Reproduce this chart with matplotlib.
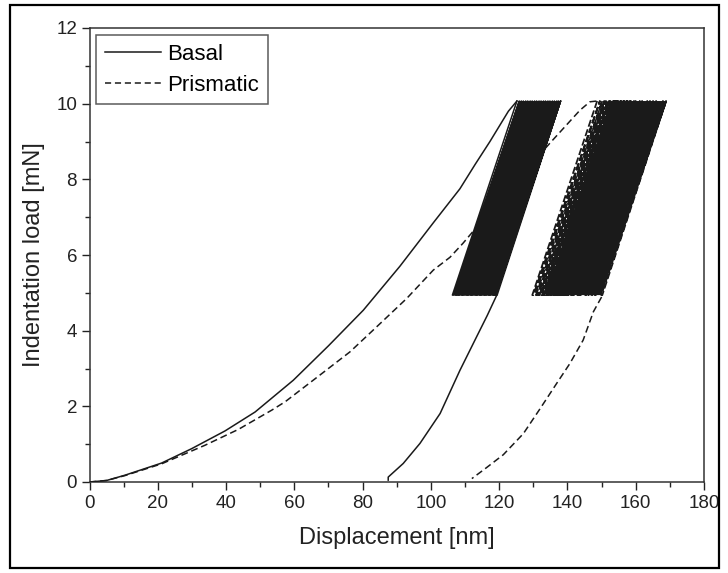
import matplotlib
matplotlib.use("Agg")
import matplotlib.pyplot as plt
from matplotlib.patches import Rectangle, Polygon
from matplotlib.lines import Line2D
from matplotlib.ticker import MultipleLocator

plt.rcParams['font.family'] = ['Liberation Sans', 'DejaVu Sans']

# loading curves (displacement nm, load mN)
basal_load_x = [0, 5, 10.4, 21.1, 29.9, 39.7, 48.5, 57.3, 59.7, 70, 80.2, 90.9,
                100.7, 108.5, 113, 117.3, 122.7, 125.2]
basal_load_y = [0, 0.04, 0.18, 0.5, 0.88, 1.35, 1.85, 2.51, 2.69, 3.6, 4.54, 5.7,
                6.85, 7.75, 8.4, 9.0, 9.8, 10.07]
prism_load_x = [0, 5, 10.4, 21.1, 33.8, 43.6, 53.4, 57.3, 66.1, 76.3, 84.1, 92.9,
                100.7, 105.6, 109.4, 122, 134.9, 143.7, 146.6, 148.7]
prism_load_y = [0, 0.04, 0.17, 0.48, 0.97, 1.39, 1.9, 2.12, 2.73, 3.44, 4.1, 4.85,
                5.6, 5.94, 6.31, 7.65, 8.96, 9.83, 10.05, 10.07]

# final unloading curves
basal_unload_x = [119.3, 116.5, 113.4, 108.5, 102.7, 96.8, 91.9, 88.6, 87.5, 87.5]
basal_unload_y = [4.94, 4.4, 3.84, 2.95, 1.81, 1.02, 0.49, 0.22, 0.13, 0.05]
prism_unload_x = [150.0, 147.6, 144.6, 140.7, 136.8, 132.0, 127.1, 121.2, 116.3, 112.0]
prism_unload_y = [4.89, 4.5, 3.75, 3.13, 2.6, 1.94, 1.28, 0.72, 0.38, 0.09]

# cyclic loading between 5 and 10 mN: displacement at 10 mN for each cycle
cycle_max_load = 10.07
cycle_min_load = 4.94
basal_cycle_top = [125.2, 125.9, 126.5, 127.1, 127.8, 128.4, 129.1, 129.7, 130.4,
                   131.0, 131.7, 132.3, 133.0, 133.6, 134.3, 134.9, 135.6, 136.2,
                   136.9, 137.4, 138.0]
basal_span = 18.9   # displacement change from 10 to 5 mN
prism_cycle_top = [148.7, 149.5, 150.2, 150.8, 151.3, 151.8, 152.2, 152.6, 153.0,
                   153.4, 153.7, 154.0, 154.3, 154.6, 154.9, 155.2, 155.5, 155.8,
                   156.1, 156.4, 156.7, 157.0, 157.3, 157.6, 157.9, 158.2, 158.6,
                   159.0, 159.5, 160.0, 160.6, 161.2, 161.9, 162.6, 163.4, 164.2,
                   165.1, 166.0, 167.0, 168.0, 168.9]
prism_span = 19.0

# dense part of the cycle bands (top left, top right, bottom right, bottom left)
basal_band_x = [126.0, 138.0, 119.3, 107.0]
prism_band_x = [157.5, 168.9, 150.0, 138.5]
band_y = [cycle_max_load, cycle_max_load, cycle_min_load, cycle_min_load]


def cycle_path(tops, span):
    xs, ys = [], []
    for t in tops:
        xs += [t, t - span, t - span + 0.3]
        ys += [cycle_max_load, cycle_min_load, cycle_min_load]
    xs.append(tops[-1])
    ys.append(cycle_max_load)
    return xs, ys


fig = plt.figure(figsize=(7.28, 5.73), dpi=100)
ax = fig.add_axes([89.5 / 728, 91 / 573, 614.5 / 728, 454 / 573])

ink = '#1a1a1a'
dash = (0, (4.5, 2.5))

ax.add_patch(Polygon(list(zip(basal_band_x, band_y)), closed=True, color=ink, lw=0))
ax.add_patch(Polygon(list(zip(prism_band_x, band_y)), closed=True, color=ink, lw=0))

ax.plot(prism_load_x, prism_load_y, color=ink, lw=1.1, linestyle=dash, zorder=1)
ax.plot(prism_unload_x, prism_unload_y, color=ink, lw=1.1, linestyle=dash)
px, py = cycle_path(prism_cycle_top, prism_span)
ax.plot(px, py, color=ink, lw=1.3, linestyle=(0, (4, 1.5)))

ax.plot(basal_load_x, basal_load_y, color=ink, lw=1.1, zorder=3)
ax.plot(basal_unload_x, basal_unload_y, color=ink, lw=1.1, zorder=3)
bx, by = cycle_path(basal_cycle_top, basal_span)
ax.plot(bx, by, color=ink, lw=1.1, zorder=3)

ax.set_xlim(0, 180)
ax.set_ylim(0, 12)
ax.xaxis.set_major_locator(MultipleLocator(20))
ax.xaxis.set_minor_locator(MultipleLocator(10))
ax.yaxis.set_major_locator(MultipleLocator(2))
ax.yaxis.set_minor_locator(MultipleLocator(1))
ax.tick_params(which='major', direction='out', length=6, width=1, labelsize=13.5,
               colors='#222222', pad=3)
ax.tick_params(which='minor', direction='out', length=3.5, width=1, colors='#222222')
for s in ax.spines.values():
    s.set_linewidth(1.1)
    s.set_color('#333333')

ax.set_xlabel('Displacement [nm]', fontsize=17, color='#222222', labelpad=11)
ax.set_ylabel('Indentation load [mN]', fontsize=17, color='#222222', labelpad=8)

handles = [Line2D([], [], color=ink, lw=1.1),
           Line2D([], [], color=ink, lw=1.1, linestyle=(0, (4, 2.5)))]
leg = ax.legend(handles, ['Basal', 'Prismatic'], loc='upper left', fontsize=16,
                frameon=True, fancybox=False, edgecolor='#333333',
                borderaxespad=0.3, handlelength=2.5, handletextpad=0.3,
                labelspacing=0.45, borderpad=0.4)
leg.get_frame().set_linewidth(1.1)

# outer frame around the figure
fig.patches.append(Rectangle((10 / 728, 5 / 573), 709 / 728, 563 / 573,
                             transform=fig.transFigure, fill=False,
                             edgecolor='black', lw=1.6))

fig.savefig('out.png', dpi=100)
